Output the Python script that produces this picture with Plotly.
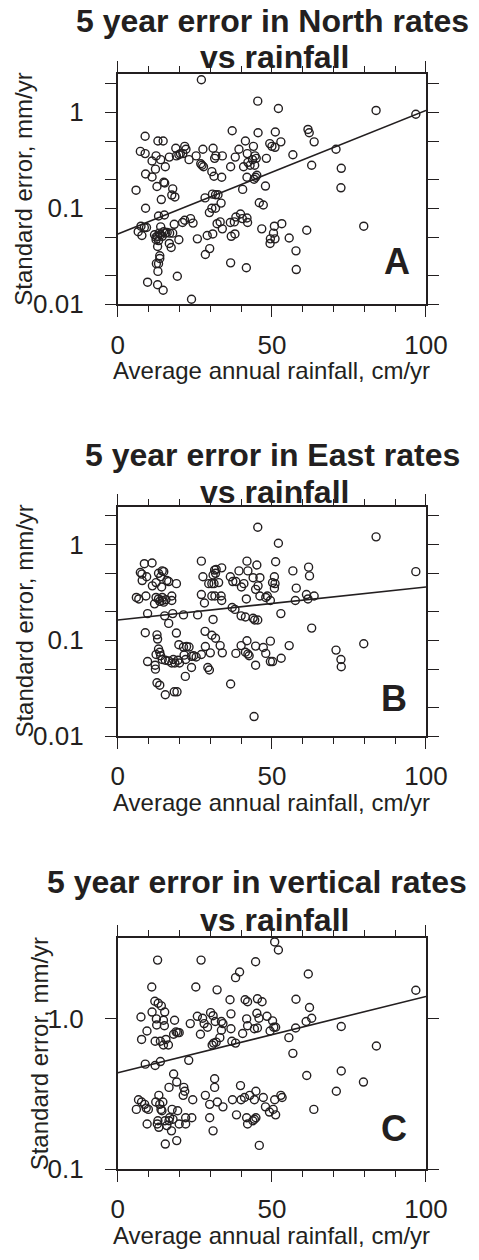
import plotly.graph_objects as go

# ---------------- data ----------------
north_x = [27.1,45.4,52.1,83.8,96.7,37.1,45.5,51.1,61.7,62.1,
           63.7,52.9,49.3,50.0,51.0,41.4,44.0,39.3,42.0,44.5,
           44.9,43.7,42.2,42.9,44.4,40.8,48.2,56.8,70.8,72.5,
           72.4,62.9,79.8,61.3,55.6,57.8,57.9,53.2,50.8,50.5,
           49.5,51.0,49.4,46.7,45.9,47.2,47.9,44.7,45.1,44.2,
           41.9,40.5,39.8,40.4,41.9,42.1,36.5,38.3,37.8,36.8,
           38.0,36.6,41.7,33.9,33.2,32.2,30.8,29.0,29.8,28.4,
           25.8,23.9,19.3,9.65,12.9,14.7,12.5,13.2,13.0,13.6,
           13.6,12.9,11.9,12.4,12.9,13.4,13.9,14.4,14.9,15.4,
           12.4,13.2,6.6,7.8,8.6,7.5,9.3,16.7,17.3,19.8,
           17.8,16.8,16.0,18.3,21.0,21.7,23.6,24.4,13.2,15.1,
           13.9,9.0,5.9,14.1,12.7,14.9,15.2,17.8,17.5,18.5,
           28.3,30.7,31.7,32.5,33.5,29.7,30.5,31.7,9.0,11.1,
           12.2,7.3,8.85,8.85,13.0,14.7,11.1,12.4,13.9,15.4,
           16.7,18.8,19.0,19.8,20.3,21.7,22.1,21.1,23.1,25.4,
           27.6,27.3,26.9,27.8,30.9,31.4,31.8,33.9,30.5,31.2,
           33.7,36.6,38.1]
north_y = [2.17,1.30,1.09,1.04,0.95,0.64,0.61,0.62,0.66,0.61,
           0.49,0.49,0.47,0.44,0.43,0.50,0.44,0.41,0.37,0.35,
           0.33,0.32,0.30,0.28,0.28,0.27,0.33,0.36,0.41,0.26,
           0.163,0.28,0.065,0.059,0.049,0.036,0.023,0.069,0.065,0.055,
           0.048,0.048,0.043,0.061,0.114,0.108,0.17,0.21,0.22,0.20,
           0.21,0.157,0.087,0.078,0.079,0.071,0.071,0.081,0.072,0.051,
           0.054,0.027,0.024,0.061,0.072,0.069,0.054,0.052,0.038,0.033,
           0.048,0.0113,0.0196,0.017,0.016,0.014,0.0265,0.0265,0.022,0.032,
           0.030,0.040,0.053,0.050,0.051,0.055,0.053,0.051,0.057,0.055,
           0.047,0.046,0.057,0.052,0.063,0.065,0.063,0.043,0.039,0.047,
           0.055,0.055,0.056,0.068,0.071,0.075,0.078,0.070,0.083,0.085,
           0.064,0.10,0.154,0.123,0.168,0.186,0.183,0.159,0.137,0.131,
           0.128,0.14,0.138,0.138,0.113,0.090,0.10,0.10,0.227,0.211,
           0.255,0.39,0.37,0.56,0.50,0.50,0.31,0.35,0.32,0.27,
           0.34,0.42,0.35,0.36,0.37,0.44,0.41,0.37,0.32,0.35,
           0.41,0.28,0.29,0.27,0.42,0.33,0.35,0.35,0.24,0.215,
           0.21,0.27,0.34]

east_x = [45.4,52.1,83.8,96.7,8.6,11.1,7.3,7.8,9.35,7.9,
          13.2,14.4,14.9,13.9,15.9,16.5,19.0,11.2,12.4,14.2,
          6.0,6.8,9.1,12.4,13.2,13.6,14.4,14.9,11.9,14.4,
          15.6,17.5,17.5,9.65,15.2,17.8,16.5,21.3,25.9,27.1,
          27.6,30.9,31.4,31.9,33.7,31.7,29.5,30.5,32.7,31.2,
          27.1,30.5,31.5,33.5,33.7,28.1,30.9,36.5,37.3,38.3,
          39.3,40.1,41.9,42.2,45.1,46.1,43.9,40.9,44.7,45.5,
          41.7,46.1,48.0,49.5,48.5,37.1,38.0,40.0,41.4,43.9,
          44.4,45.4,50.8,50.2,51.0,50.8,51.2,56.8,57.9,57.6,
          52.9,61.2,61.7,63.7,61.9,62.2,62.9,70.8,72.4,72.5,
          79.8,55.6,53.0,49.5,50.2,49.5,48.0,47.2,44.7,44.7,
          44.2,41.9,40.0,41.4,42.2,42.6,38.3,36.6,33.9,33.2,
          31.7,30.5,28.3,28.4,30.0,29.2,29.7,27.1,25.4,24.6,
          23.9,23.1,22.3,21.3,19.8,19.0,8.9,12.7,12.9,13.2,
          13.6,12.4,13.9,14.4,15.4,16.5,17.5,18.0,18.5,19.5,
          20.0,21.5,22.0,9.65,12.1,12.2,12.7,13.6,15.4,18.3,
          19.2,21.9,23.9]
east_y = [1.51,1.03,1.20,0.52,0.63,0.64,0.51,0.49,0.46,0.42,
          0.50,0.53,0.52,0.46,0.42,0.41,0.39,0.37,0.40,0.36,
          0.28,0.27,0.29,0.28,0.27,0.255,0.28,0.25,0.24,0.26,
          0.265,0.29,0.26,0.19,0.18,0.19,0.15,0.184,0.184,0.67,
          0.46,0.48,0.54,0.55,0.57,0.50,0.39,0.39,0.40,0.39,
          0.30,0.29,0.29,0.29,0.26,0.245,0.165,0.46,0.41,0.41,
          0.53,0.36,0.67,0.53,0.61,0.45,0.45,0.39,0.34,0.37,
          0.27,0.29,0.28,0.26,0.29,0.22,0.21,0.18,0.175,0.17,
          0.163,0.163,0.46,0.40,0.39,0.35,0.66,0.53,0.35,0.26,
          0.19,0.30,0.27,0.29,0.58,0.47,0.134,0.079,0.063,0.053,
          0.092,0.088,0.065,0.06,0.06,0.098,0.073,0.084,0.087,0.055,
          0.016,0.099,0.088,0.075,0.072,0.069,0.073,0.035,0.074,0.088,
          0.105,0.113,0.124,0.086,0.074,0.052,0.049,0.071,0.067,0.069,
          0.068,0.085,0.086,0.085,0.09,0.119,0.12,0.114,0.103,0.081,
          0.075,0.071,0.069,0.063,0.062,0.061,0.058,0.063,0.058,0.062,
          0.058,0.07,0.063,0.060,0.055,0.050,0.036,0.034,0.027,0.029,
          0.029,0.042,0.052]

vert_x = [50.9,52.1,12.9,27.0,44.7,39.5,38.2,61.8,11.0,25.3,
          32.2,96.7,36.4,41.3,42.1,45.3,46.8,57.8,12.0,13.1,
          14.1,15.2,11.1,62.2,7.5,12.5,14.8,15.1,18.4,12.6,
          9.45,7.7,12.1,13.8,15.6,14.8,16.4,18.1,19.4,19.9,
          18.9,23.5,25.8,27.5,26.8,28.0,29.1,30.1,30.9,31.6,
          33.6,34.1,33.6,33.1,31.9,31.1,30.6,36.7,36.7,37.0,
          38.2,40.5,41.8,42.1,44.3,45.1,45.8,45.3,48.4,50.2,
          50.6,51.2,49.4,55.5,56.8,57.7,61.1,62.9,72.5,83.9,
          8.9,12.1,13.8,23.0,18.1,19.1,16.6,21.4,21.2,21.7,
          24.3,31.4,31.4,28.4,29.8,32.3,34.1,29.8,30.9,39.8,
          37.2,40.0,41.1,42.8,44.8,44.3,47.2,47.9,49.2,50.4,
          50.9,52.9,53.3,51.2,38.5,41.8,42.1,43.8,44.8,44.3,
          45.9,61.3,63.6,72.5,70.9,79.7,6.0,6.7,7.7,8.7,
          9.2,9.9,12.3,13.3,13.6,14.0,14.3,14.6,17.6,19.4,
          16.8,17.9,16.6,15.3,13.0,12.8,13.3,9.5,15.9,17.4,
          19.9,22.0,22.0,24.0,15.4,19.1]
vert_y = [3.25,2.87,2.46,2.46,2.40,2.05,1.88,1.99,1.63,1.63,
          1.56,1.55,1.34,1.34,1.30,1.36,1.30,1.35,1.31,1.27,
          1.22,1.11,1.11,1.19,1.03,1.0,0.98,0.90,0.98,0.91,
          0.83,0.73,0.71,0.71,0.73,0.67,0.67,0.79,0.81,0.81,
          0.82,0.93,1.04,1.01,0.79,0.93,0.88,1.1,1.05,0.96,
          0.96,0.93,0.84,0.75,0.70,0.69,0.67,1.08,0.86,0.71,
          0.69,0.80,1.0,0.90,0.86,1.09,1.01,0.87,1.04,0.97,
          0.88,0.88,0.83,0.75,0.59,0.87,0.96,1.01,0.89,0.66,
          0.50,0.49,0.52,0.53,0.43,0.38,0.35,0.35,0.31,0.33,
          0.29,0.40,0.35,0.31,0.27,0.28,0.26,0.22,0.18,0.36,
          0.29,0.29,0.30,0.31,0.33,0.29,0.30,0.26,0.24,0.25,
          0.29,0.31,0.30,0.23,0.23,0.22,0.20,0.21,0.22,0.215,
          0.144,0.42,0.25,0.45,0.33,0.38,0.25,0.29,0.28,0.27,
          0.255,0.25,0.28,0.31,0.27,0.25,0.245,0.28,0.25,0.245,
          0.22,0.215,0.21,0.21,0.21,0.20,0.19,0.20,0.195,0.18,
          0.20,0.22,0.20,0.22,0.147,0.155]

# regression lines (end points)
fit_x = [0, 100]
north_fit_y = [0.054, 1.04]
east_fit_y = [0.163, 0.36]
vert_fit_y = [0.438, 1.41]

titles = [("5 year error in North rates", "vs rainfall"),
          ("5 year error in East rates", "vs rainfall"),
          ("5 year error in vertical rates", "vs rainfall")]
letters = ["A", "B", "C"]
x_title = "Average annual rainfall, cm/yr"
y_title = "Standard error, mm/yr"
x_tickvals = [0, 50, 100]
y_tickvals_ab = [0.01, 0.02, 0.05, 0.1, 0.2, 0.5, 1, 2]
y_ticktext_ab = ["0.01", "", "", "0.1", "", "", "1", ""]
y_tickvals_c = [0.1, 1]
y_ticktext_c = ["0.1", "1.0"]

# ---------------- figure ----------------
W, H = 479, 1260
INK = "#231f20"
FONT = "Liberation Sans, Arial, Helvetica, sans-serif"

# plot boxes in pixels: (left, right, top, bottom)
boxes = [(118, 446, 75, 308), (118, 446, 512.7, 745), (118, 446, 949, 1183.3)]
yranges = [[-2, 0.395], [-2, 0.395], [-1, 0.54]]
series = [(north_x, north_y, north_fit_y), (east_x, east_y, east_fit_y),
          (vert_x, vert_y, vert_fit_y)]
# title line placement (centre x, centre y) in pixels
title_pos = [((283, 21.0), (285, 58.0)),
             ((283, 460.5), (285, 497.5)),
             ((266, 892.5), (285, 931.2))]

fig = go.Figure()
layout = dict(width=W, height=H, margin=dict(l=0, r=0, t=0, b=0),
              paper_bgcolor="white", plot_bgcolor="white",
              showlegend=False, font=dict(family=FONT, color=INK))
annotations = []

for i, ((l, r, t, b), yr, (sx, sy, fy)) in enumerate(zip(boxes, yranges, series)):
    n = "" if i == 0 else str(i + 1)
    xa, ya = "x" + n, "y" + n
    fig.add_trace(go.Scatter(x=sx, y=sy, mode="markers", xaxis=xa, yaxis=ya,
                             marker=dict(symbol="circle-open", size=8,
                                         color=INK, line=dict(width=1.4, color=INK))))
    fig.add_trace(go.Scatter(x=fit_x, y=fy, mode="lines", xaxis=xa, yaxis=ya,
                             line=dict(color=INK, width=1.6)))
    if i < 2:
        tv, tt = y_tickvals_ab, y_ticktext_ab
    else:
        tv, tt = y_tickvals_c, y_ticktext_c
    layout["xaxis" + n] = dict(
        domain=[l / W, r / W], anchor=ya, range=[0, 100],
        tickvals=x_tickvals, ticks="outside", ticklen=11, tickwidth=1.3,
        tickcolor=INK, showline=True, linewidth=2, linecolor=INK,
        mirror="allticks", showgrid=False, zeroline=False,
        tickfont=dict(size=26, family=FONT, color=INK), ticklabelstandoff=5,
        minor=dict(dtick=10, ticks="outside", ticklen=6, tickwidth=1.3,
                   tickcolor=INK, showgrid=False))
    layout["yaxis" + n] = dict(
        domain=[1 - b / H, 1 - t / H], anchor=xa, type="log", range=yr,
        tickvals=tv, ticktext=tt, ticks="outside", ticklen=11, tickwidth=1.3,
        tickcolor=INK, showline=True, linewidth=2, linecolor=INK,
        mirror="allticks", showgrid=False, zeroline=False,
        tickfont=dict(size=26, family=FONT, color=INK), ticklabelstandoff=16)

    # titles (two lines)
    for txt, (xc, yc) in zip(titles[i], title_pos[i]):
        annotations.append(dict(text="<b>%s</b>" % txt, xref="paper", yref="paper",
                                x=xc / W, y=1 - yc / H, xanchor="center", yanchor="middle",
                                showarrow=False, font=dict(size=32, family=FONT, color=INK)))
    # panel letter
    lx, ly = [(415.3, 265), (411.5, 707.2), (411.5, 1142.5)][i]
    annotations.append(dict(text="<b>%s</b>" % letters[i], xref="paper", yref="paper",
                            x=lx / W, y=1 - ly / H, xanchor="center", yanchor="middle",
                            showarrow=False, font=dict(size=36, family=FONT, color=INK)))
    # x axis title
    annotations.append(dict(text=x_title, xref="paper", yref="paper",
                            x=((l + r) / 2) / W, y=1 - (b + 67) / H,
                            xanchor="center", yanchor="middle", showarrow=False,
                            font=dict(size=24, family=FONT, color=INK)))
    # y axis title
    yx = [17.5, 18.3, 35][i]
    annotations.append(dict(text=y_title, xref="paper", yref="paper",
                            x=yx / W, y=1 - ((t + b) / 2) / H, textangle=-90,
                            xanchor="center", yanchor="middle", showarrow=False,
                            font=dict(size=24, family=FONT, color=INK)))

layout["annotations"] = annotations
fig.update_layout(**layout)
fig.write_html("out.html")
